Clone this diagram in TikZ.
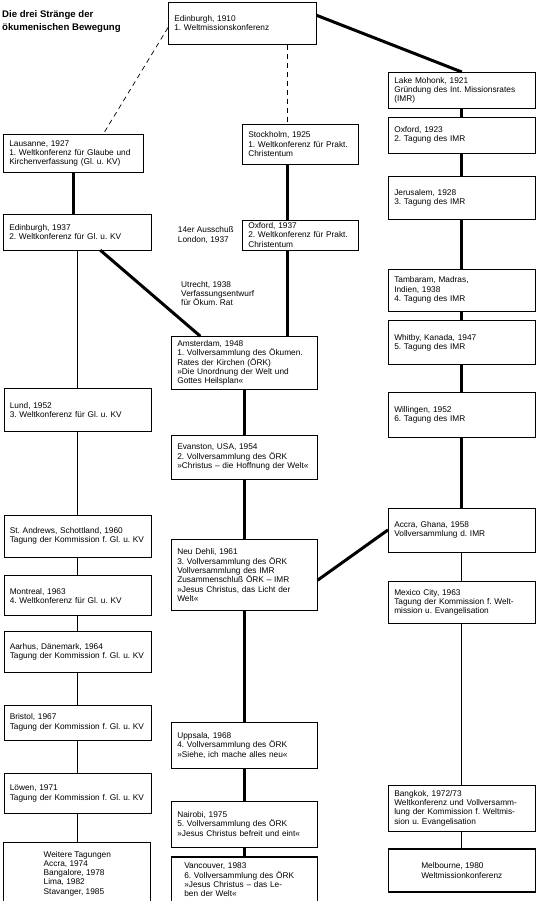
\documentclass[tikz,border=0pt]{standalone}
\usepackage{fontspec}
\setmainfont{Liberation Sans}
\usepackage{tikz}
\usetikzlibrary{positioning}
\frenchspacing
\newcommand{\evfont}{\fontsize{8.3}{9.3}\selectfont}
\tikzstyle{event} = [
    rectangle,
    draw=black,
    line width=0.6pt,
    align=left,
    inner xsep=6pt,
    inner ysep=2pt,
    font=\evfont
]
\tikzstyle{final} = [
    event,
    line width=1.3pt
]
\tikzstyle{note} = [
    align=left,
    inner sep=0pt,
    font=\evfont
]
\tikzstyle{strand} = [
    line width=3pt
]
\tikzstyle{link} = [
    line width=0.8pt
]
\tikzstyle{loose} = [
    line width=0.7pt,
    dash pattern=on 5pt off 4pt
]

\begin{document}
\begin{tikzpicture}[x=1pt, y=1pt]
    \useasboundingbox (0,0) rectangle (538,-901);

    \node[note, font=\fontsize{9.6}{13.5}\selectfont\bfseries, anchor=north west] (title) at (2,-10) {Die drei Stränge der\\ökumenischen Bewegung};

    % Weltmissionskonferenz
    \node[event, text width=136pt, minimum height=42pt, anchor=north west] (edinburgh10) at (168,-2) {Edinburgh, 1910\\1. Weltmissionskonferenz};

    % Glaube und Kirchenverfassung
    \node[event, text width=128pt, minimum height=38pt, anchor=north west] (lausanne) at (3,-134) {Lausanne, 1927\\1. Weltkonferenz für Glaube und\\Kirchenverfassung (Gl. u. KV)};
    \node[event, text width=136pt, minimum height=36pt, below=41pt of lausanne.south west, anchor=north west] (edinburgh37) {Edinburgh, 1937\\2. Weltkonferenz für Gl. u. KV};
    \node[event, text width=135pt, minimum height=43pt, below=138pt of edinburgh37] (lund) {Lund, 1952\\3. Weltkonferenz für Gl. u. KV};
    \node[event, text width=135pt, minimum height=42pt, below=83pt of lund] (standrews) {St. Andrews, Schottland, 1960\\Tagung der Kommission f. Gl. u. KV};
    \node[event, text width=135pt, minimum height=40pt, below=18pt of standrews] (montreal) {Montreal, 1963\\4. Weltkonferenz für Gl. u. KV};
    \node[event, text width=135pt, minimum height=41pt, below=15pt of montreal] (aarhus) {Aarhus, Dänemark, 1964\\Tagung der Kommission f. Gl. u. KV};
    \node[event, text width=135pt, minimum height=35pt, below=32pt of aarhus] (bristol) {Bristol, 1967\\Tagung der Kommission f. Gl. u. KV};
    \node[event, text width=135pt, minimum height=40pt, below=33pt of bristol] (loewen) {Löwen, 1971\\Tagung der Kommission f. Gl. u. KV};
    \node[final, minimum width=147pt, minimum height=62pt, below=28pt of loewen] (weitere) {Weitere Tagungen\\Accra, 1974\\Bangalore, 1978\\Lima, 1982\\Stavanger, 1985};

    % Praktisches Christentum und ÖRK
    \node[event, text width=104pt, minimum height=40pt, anchor=north west] (stockholm) at (242,-124) {Stockholm, 1925\\1. Weltkonferenz für Prakt.\\Christentum};
    \node[event, text width=104pt, minimum height=30pt, below=55pt of stockholm] (oxford37) {Oxford, 1937\\2. Weltkonferenz für Prakt.\\Christentum};
    \node[note, left=8pt of oxford37] (ausschuss) {14er Ausschuß\\London, 1937};
    \node[event, text width=134pt, minimum height=53pt, below=86pt of oxford37, xshift=-56pt] (amsterdam) {Amsterdam, 1948\\1. Vollversammlung des Ökumen.\\Rates der Kirchen (ÖRK)\\»Die Unordnung der Welt und\\Gottes Heilsplan«};
    \node[note, anchor=north west] (utrecht) at (181,-281) {Utrecht, 1938\\Verfassungsentwurf\\für Ökum. Rat};
    \node[event, text width=134pt, minimum height=44pt, below=45pt of amsterdam] (evanston) {Evanston, USA, 1954\\2. Vollversammlung des ÖRK\\»Christus – die Hoffnung der Welt«};
    \node[event, text width=134pt, minimum height=71pt, below=60pt of evanston] (neudehli) {Neu Dehli, 1961\\3. Vollversammlung des ÖRK\\Vollversammlung des IMR\\Zusammenschluß ÖRK – IMR\\»Jesus Christus, das Licht der\\Welt«};
    \node[event, text width=134pt, minimum height=46pt, below=111pt of neudehli] (uppsala) {Uppsala, 1968\\4. Vollversammlung des ÖRK\\»Siehe, ich mache alles neu«};
    \node[event, text width=134pt, minimum height=46pt, below=32pt of uppsala] (nairobi) {Nairobi, 1975\\5. Vollversammlung des ÖRK\\»Jesus Christus befreit und eint«};
    \node[final, text width=120pt, inner xsep=13pt, minimum height=46pt, below=9pt of nairobi] (vancouver) {Vancouver, 1983\\6. Vollversammlung des ÖRK\\»Jesus Christus – das Le-\\ben der Welt«};

    % Internationaler Missionsrat
    \node[event, text width=135pt, minimum height=36pt, anchor=north west] (mohonk) at (388,-72) {Lake Mohonk, 1921\\Gründung des Int. Missionsrates\\(IMR)};
    \node[event, text width=135pt, minimum height=36pt, below=8pt of mohonk] (oxford23) {Oxford, 1923\\2. Tagung des IMR};
    \node[event, text width=135pt, minimum height=43pt, below=23pt of oxford23] (jerusalem) {Jerusalem, 1928\\3. Tagung des IMR};
    \node[event, text width=135pt, minimum height=42pt, below=49pt of jerusalem] (tambaram) {Tambaram, Madras,\\Indien, 1938\\4. Tagung des IMR};
    \node[event, text width=135pt, minimum height=44pt, below=9pt of tambaram] (whitby) {Whitby, Kanada, 1947\\5. Tagung des IMR};
    \node[event, text width=135pt, minimum height=45pt, below=27pt of whitby] (willingen) {Willingen, 1952\\6. Tagung des IMR};
    \node[event, text width=135pt, minimum height=44pt, below=70pt of willingen] (accra) {Accra, Ghana, 1958\\Vollversammlung d. IMR};
    \node[event, text width=135pt, minimum height=42pt, below=29pt of accra] (mexico) {Mexico City, 1963\\Tagung der Kommission f. Welt-\\mission u. Evangelisation};
    \node[event, text width=135pt, minimum height=46pt, below=161pt of mexico] (bangkok) {Bangkok, 1972/73\\Weltkonferenz und Vollversamm-\\lung der Kommission f. Weltmis-\\sion u. Evangelisation};
    \node[final, minimum width=147pt, minimum height=43pt, below=17pt of bangkok] (melbourne) {Melbourne, 1980\\Weltmissionkonferenz};

    % Connectors
    \draw[loose] ([yshift=17pt]edinburgh10.south west) -- ([xshift=30pt]lausanne.north);
    \draw[loose] ([xshift=-13pt]stockholm.north |- edinburgh10.south) -- ([xshift=-13pt]stockholm.north);
    \draw[strand] ([yshift=8pt]edinburgh10.east) -- (mohonk.north);

    \draw[strand] (lausanne.south) -- (lausanne.south |- edinburgh37.north);
    \draw[link] (edinburgh37) -- (lund);
    \draw[link] (lund) -- (standrews);
    \draw[link] (standrews) -- (montreal);
    \draw[link] (montreal) -- (aarhus);
    \draw[link] (aarhus) -- (bristol);
    \draw[link] (bristol) -- (loewen);
    \draw[link] (loewen) -- (weitere);

    \draw[strand] ([xshift=-13pt]stockholm.south) -- ([xshift=-13pt]oxford37.north);
    \draw[strand] ([xshift=-13pt]oxford37.south) -- ([xshift=-13pt]oxford37.south |- amsterdam.north);
    \draw[strand] ([xshift=23pt]edinburgh37.south) -- ([xshift=-44pt]amsterdam.north);
    \draw[strand] (amsterdam) -- (evanston);
    \draw[strand] (evanston) -- (neudehli);
    \draw[strand] (neudehli) -- (uppsala);
    \draw[strand] (uppsala) -- (nairobi);
    \draw[strand] (nairobi) -- (vancouver);

    \draw[strand] (mohonk) -- (oxford23);
    \draw[strand] (oxford23) -- (jerusalem);
    \draw[strand] (jerusalem) -- (tambaram);
    \draw[strand] (tambaram) -- (whitby);
    \draw[strand] (whitby) -- (willingen);
    \draw[strand] (willingen) -- (accra);
    \draw[strand] (accra.west) -- ([yshift=-5pt]neudehli.east);
    \draw[link] (accra) -- (mexico);
    \draw[link] (mexico) -- (bangkok);
    \draw[link] (bangkok) -- (melbourne);
\end{tikzpicture}
\end{document}
